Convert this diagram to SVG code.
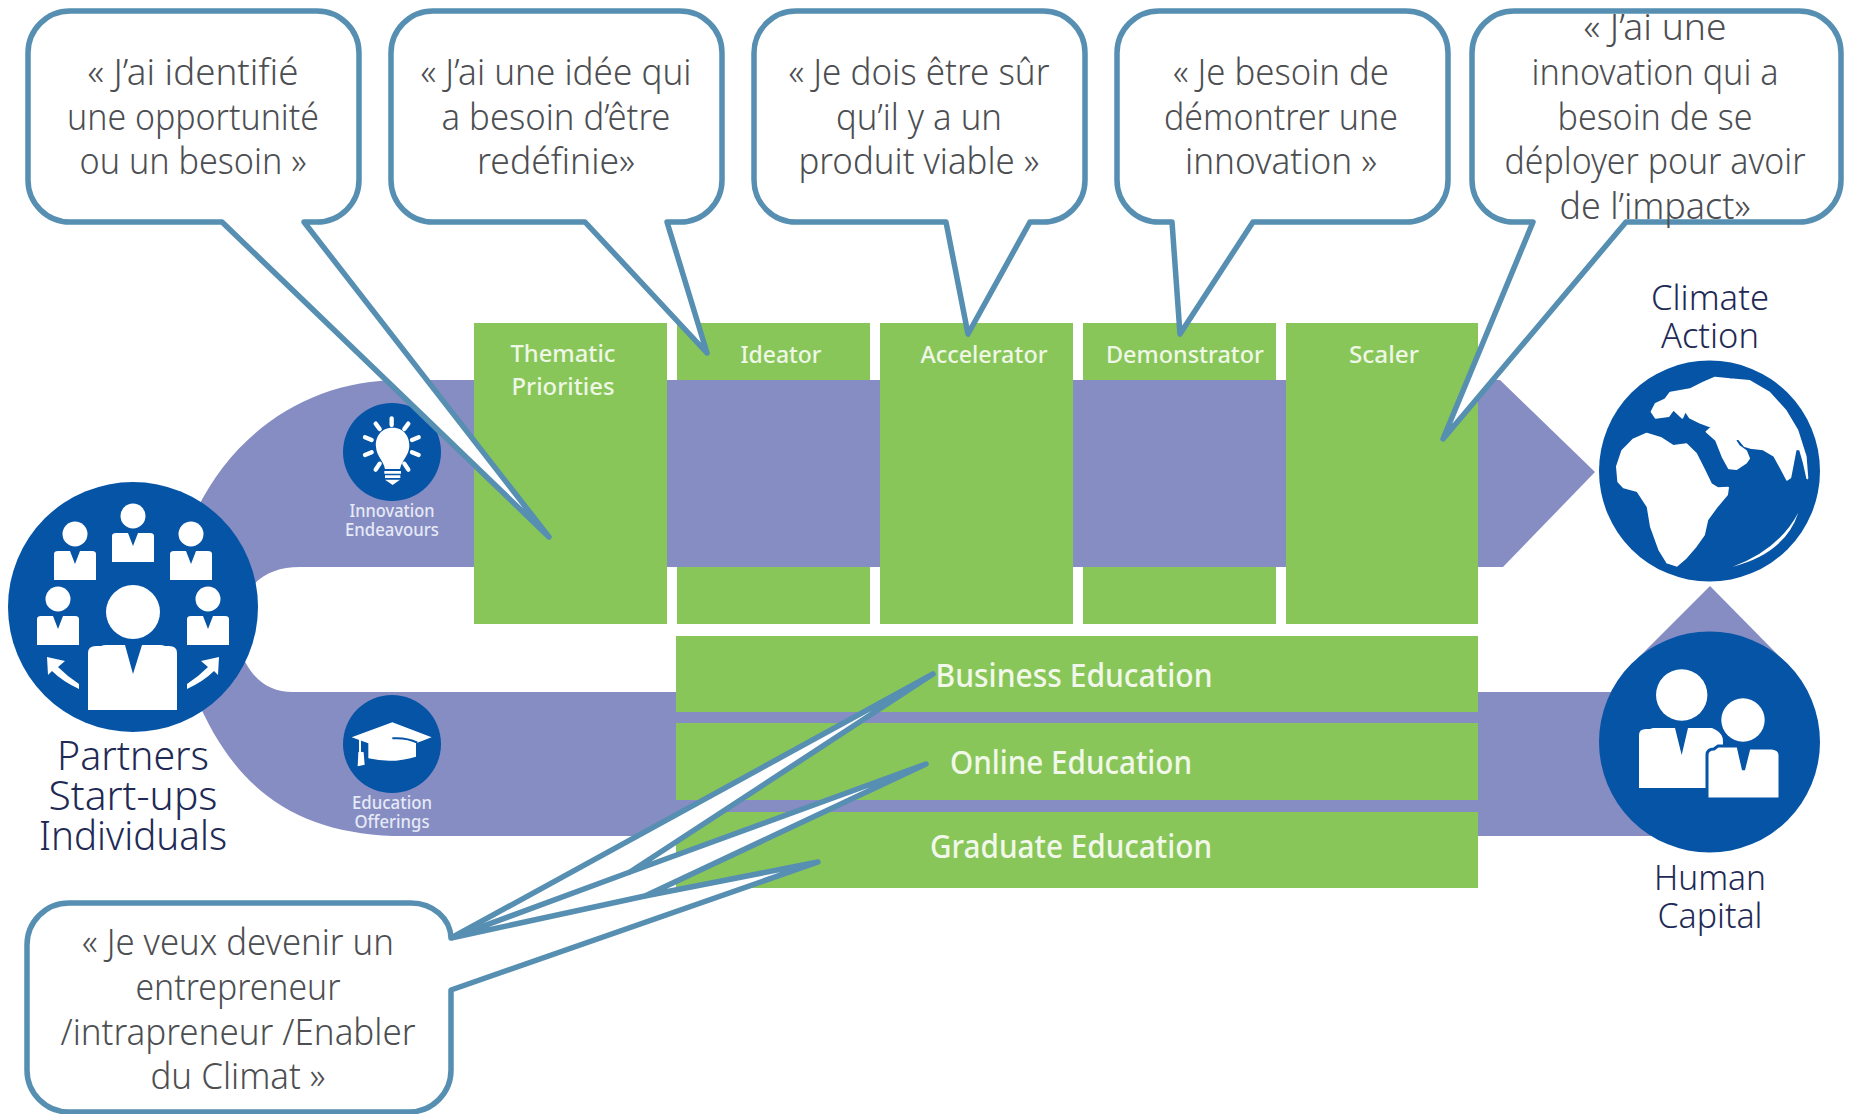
<svg xmlns="http://www.w3.org/2000/svg" width="1850" height="1114" viewBox="0 0 1850 1114">
<style>
text{font-family:"Noto Sans","Open Sans",sans-serif;text-anchor:middle}
.bg{fill:#fff}
.band{fill:#858dc3}
.green{fill:#89c659}
.blue{fill:#0554a6}
.w{fill:#fff}
.soft{fill:#fff;stroke:#fff;stroke-width:6;stroke-linejoin:round}
.bub{fill:#fff;stroke:#568fb1;stroke-width:5.5;stroke-linejoin:round}
.q{font-size:36px;font-weight:300;fill:#4c4e52}
.gl{font-size:24px;font-weight:500;fill:#eef7e6}
.el{font-size:32px;font-weight:500;fill:#f1f8ea}
.cl{font-size:18px;font-weight:500;fill:#e6e9f6}
.big{font-size:40px;font-weight:300;fill:#1f2a55}
.mid{font-size:35px;font-weight:300;fill:#1f2a55}
</style>
<rect class="bg" width="1850" height="1114"/>

<g id="ideator-block"><rect class="green" x="677" y="323" width="193" height="301"/></g>
<g id="demonstrator-block"><rect class="green" x="1083" y="323" width="193" height="301"/></g>

<g id="connectors">
<path id="innovation-flow" class="band" d="M190,525 C228,432 310,380 400,380 H1500 L1595,472 L1503,567 H300 C275,567 258,576 245,595 Z"/>
<path id="education-flow" class="band" d="M240,650 C250,678 268,692 293,692 H1720 V836 H393 C295,832 235,790 195,695 Z"/>
<path id="human-to-climate" class="band" d="M1710,586 L1637,659 H1782 Z"/>
</g>

<g id="thematic-block"><rect class="green" x="474" y="323" width="193" height="301"/></g>
<g id="accelerator-block"><rect class="green" x="880" y="323" width="193" height="301"/></g>
<g id="scaler-block"><rect class="green" x="1286" y="323" width="192" height="301"/></g>
<g id="business-education"><rect class="green" x="676" y="636" width="802" height="76"/></g>
<g id="online-education"><rect class="green" x="676" y="723" width="802" height="77"/></g>
<g id="graduate-education"><rect class="green" x="676" y="812" width="802" height="76"/></g>

<g id="partners">
<circle class="blue" cx="133" cy="607" r="125"/>
<g class="w">
<circle cx="133" cy="516" r="12.5"/><path d="M112,536 Q112,533 116,533 H128 L133,546 L138,533 H150 Q154,533 154,536 V562 H112 Z"/>
<circle cx="75" cy="534" r="12.5"/><path d="M54,554 Q54,551 58,551 H70 L75,564 L80,551 H92 Q96,551 96,554 V580 H54 Z"/>
<circle cx="191" cy="534" r="12.5"/><path d="M170,554 Q170,551 174,551 H186 L191,564 L196,551 H208 Q212,551 212,554 V580 H170 Z"/>
<circle cx="58" cy="599" r="12.5"/><path d="M37,619 Q37,616 41,616 H53 L58,629 L63,616 H75 Q79,616 79,619 V645 H37 Z"/>
<circle cx="208" cy="599" r="12.5"/><path d="M187,619 Q187,616 191,616 H203 L208,629 L213,616 H225 Q229,616 229,619 V645 H187 Z"/>
<circle cx="133" cy="612" r="27"/><path d="M88,653 Q88,646 96,646 H101 Q103,645 106,645 H125 L133,674 L142,645 H160 Q163,645 165,646 H169 Q177,646 177,653 V710 H88 Z"/>
<path d="M47,657 L65,661 L58,667 Q68,677 79,684 V689 Q62,681 52,671 L48,675 Z"/>
<path d="M219,657 L201,661 L208,667 Q198,677 187,684 V689 Q204,681 214,671 L218,675 Z"/>
</g>
<text class="big" x="133" y="770" textLength="152" lengthAdjust="spacingAndGlyphs">Partners</text>
<text class="big" x="133" y="810" textLength="169" lengthAdjust="spacingAndGlyphs">Start-ups</text>
<text class="big" x="133" y="850" textLength="188" lengthAdjust="spacingAndGlyphs">Individuals</text>
</g>

<g id="innovation-endeavours">
<circle class="blue" cx="392" cy="452" r="49"/>
<g transform="translate(330,395) scale(.3333)">
<path class="w" d="M188,98 C150,98 135,130 138,155 C140,185 160,195 165,222 H210 C215,195 235,185 238,155 C240,130 225,98 188,98 Z"/>
<path class="w" d="M163,228 H213 V236 H163 Z M165,241 H211 V249 H165 Z M165,254 H210 L188,270 Z"/>
<path fill="none" stroke="#fff" stroke-width="13" stroke-linecap="round" d="M185,70 V90 M137,86 L149,102 M235,86 L223,102 M105,127 L125,135 M266,127 L246,135 M105,180 L125,172 M266,180 L246,172 M137,224 L149,206 M235,224 L223,206"/>
</g>
<text class="cl" x="392" y="517" textLength="85" lengthAdjust="spacingAndGlyphs">Innovation</text>
<text class="cl" x="392" y="536" textLength="94" lengthAdjust="spacingAndGlyphs">Endeavours</text>
</g>

<g id="education-offerings">
<circle class="blue" cx="392" cy="744" r="49"/>
<g transform="translate(330,690) scale(.3333)">
<path class="w" d="M65,142 L187,97 L305,142 L258,160 V200 Q187,222 115,205 V160 Z"/>
<path fill="none" stroke="#0554a6" stroke-width="6" d="M187,145 Q230,142 262,158"/>
<path class="w" d="M87,150 H93 V185 L101,187 L104,224 L83,229 L85,187 L87,185 Z"/>
</g>
<text class="cl" x="392" y="809" textLength="80" lengthAdjust="spacingAndGlyphs">Education</text>
<text class="cl" x="392" y="828" textLength="75" lengthAdjust="spacingAndGlyphs">Offerings</text>
</g>

<g id="climate-action">
<circle class="blue" cx="1709.5" cy="471" r="110.5"/>
<g transform="translate(1590,350) scale(.3333)">
<path class="soft" d="M81,350 L97,302 L131,268 L170,251 L214,265 L250,288 L289,283 L318,311 L343,361 L363,402 L384,415 L414,413 L411,434 L382,468 L352,509 L342,554 L318,588 L288,623 L260,647 L232,638 L208,599 L183,530 L173,470 L142,423 L101,412 L85,395 Z"/>
<path class="soft" d="M185,185 L197,162 L226,148 L241,128 L300,118 L340,98 L375,83 L420,88 L479,93 L538,128 L587,182 L622,241 L647,320 L652,385 L642,340 L630,298 L617,298 L608,345 L601,382 L591,389 L578,364 L553,318 L520,298 L480,293 L464,288 L445,265 L435,270 L447,288 L468,303 L477,325 L468,338 L440,357 L417,355 L398,320 L378,270 L350,245 L366,231 L330,218 L300,203 L286,182 L277,203 L250,178 L236,198 L197,203 Z"/>
<path class="w" d="M428,650 Q565,600 625,488 Q585,610 428,650 Z"/>
</g>
<text class="mid" x="1710" y="310" textLength="118" lengthAdjust="spacingAndGlyphs">Climate</text>
<text class="mid" x="1710" y="348" textLength="98" lengthAdjust="spacingAndGlyphs">Action</text>
</g>

<g id="human-capital">
<circle class="blue" cx="1709.5" cy="742" r="110.5"/>
<circle class="w" cx="1681.7" cy="695" r="25.7"/>
<path class="w" d="M1639,735 Q1639,729 1646,729 H1650 L1653,728 H1675 L1681.7,755 L1688,728 H1712 L1716,730 Q1723,734 1723,741 V788 H1639 Z"/>
<circle class="w" cx="1743" cy="720" r="21.7"/>
<path class="w" stroke="#0554a6" stroke-width="3" d="M1707,755 Q1707,749 1714,749 L1718,746 H1738 L1743.5,770 L1749,748 H1772 Q1780,749 1780,755 V799 H1707 Z"/>
<text class="mid" x="1710" y="890" textLength="112" lengthAdjust="spacingAndGlyphs">Human</text>
<text class="mid" x="1710" y="928" textLength="105" lengthAdjust="spacingAndGlyphs">Capital</text>
</g>

<g id="block-labels">
<text class="gl" x="563" y="362" textLength="105" lengthAdjust="spacingAndGlyphs">Thematic</text>
<text class="gl" x="563" y="395" textLength="103" lengthAdjust="spacingAndGlyphs">Priorities</text>
<text class="gl" x="781" y="363" textLength="81" lengthAdjust="spacingAndGlyphs">Ideator</text>
<text class="gl" x="984" y="363" textLength="127" lengthAdjust="spacingAndGlyphs">Accelerator</text>
<text class="gl" x="1185" y="363" textLength="158" lengthAdjust="spacingAndGlyphs">Demonstrator</text>
<text class="gl" x="1384" y="363" textLength="70" lengthAdjust="spacingAndGlyphs">Scaler</text>
<text class="el" x="1074" y="687" textLength="277" lengthAdjust="spacingAndGlyphs">Business Education</text>
<text class="el" x="1071" y="774" textLength="242" lengthAdjust="spacingAndGlyphs">Online Education</text>
<text class="el" x="1071" y="858" textLength="282" lengthAdjust="spacingAndGlyphs">Graduate Education</text>
</g>

<g id="bubble-1">
<path class="bub" d="M70,11 H317 A42,42 0 0 1 359,53 V180 A42,42 0 0 1 317,222 H304 L549,537 L222,222 H70 A42,42 0 0 1 28,180 V53 A42,42 0 0 1 70,11 Z"/>
<text class="q" x="193" y="85" textLength="211" lengthAdjust="spacingAndGlyphs">« J’ai identifié</text>
<text class="q" x="193" y="130" textLength="252" lengthAdjust="spacingAndGlyphs">une opportunité</text>
<text class="q" x="193" y="174" textLength="227" lengthAdjust="spacingAndGlyphs">ou un besoin »</text>
</g>
<g id="bubble-2">
<path class="bub" d="M433,11 H680 A42,42 0 0 1 722,53 V180 A42,42 0 0 1 680,222 H667 L707,353 L585,222 H433 A42,42 0 0 1 391,180 V53 A42,42 0 0 1 433,11 Z"/>
<text class="q" x="556" y="85" textLength="271" lengthAdjust="spacingAndGlyphs">« J’ai une idée qui</text>
<text class="q" x="556" y="130" textLength="229" lengthAdjust="spacingAndGlyphs">a besoin d’être</text>
<text class="q" x="556" y="174" textLength="158" lengthAdjust="spacingAndGlyphs">redéfinie»</text>
</g>
<g id="bubble-3">
<path class="bub" d="M796,11 H1043 A42,42 0 0 1 1085,53 V180 A42,42 0 0 1 1043,222 H1030 L968,334 L946,222 H796 A42,42 0 0 1 754,180 V53 A42,42 0 0 1 796,11 Z"/>
<text class="q" x="919" y="85" textLength="261" lengthAdjust="spacingAndGlyphs">« Je dois être sûr</text>
<text class="q" x="919" y="130" textLength="166" lengthAdjust="spacingAndGlyphs">qu’il y a un</text>
<text class="q" x="919" y="174" textLength="241" lengthAdjust="spacingAndGlyphs">produit viable »</text>
</g>
<g id="bubble-4">
<path class="bub" d="M1159,11 H1406 A42,42 0 0 1 1448,53 V180 A42,42 0 0 1 1406,222 H1253 L1180,334 L1172,222 H1159 A42,42 0 0 1 1117,180 V53 A42,42 0 0 1 1159,11 Z"/>
<text class="q" x="1281" y="85" textLength="216" lengthAdjust="spacingAndGlyphs">« Je besoin de</text>
<text class="q" x="1281" y="130" textLength="234" lengthAdjust="spacingAndGlyphs">démontrer une</text>
<text class="q" x="1281" y="174" textLength="192" lengthAdjust="spacingAndGlyphs">innovation »</text>
</g>
<g id="bubble-5">
<path class="bub" d="M1514,11 H1799 A42,42 0 0 1 1841,53 V180 A42,42 0 0 1 1799,222 H1626 L1443,439 L1533,222 H1514 A42,42 0 0 1 1472,180 V53 A42,42 0 0 1 1514,11 Z"/>
<text class="q" x="1655" y="40" textLength="143" lengthAdjust="spacingAndGlyphs">« J’ai une</text>
<text class="q" x="1655" y="85" textLength="247" lengthAdjust="spacingAndGlyphs">innovation qui a</text>
<text class="q" x="1655" y="130" textLength="195" lengthAdjust="spacingAndGlyphs">besoin de se</text>
<text class="q" x="1655" y="174" textLength="301" lengthAdjust="spacingAndGlyphs">déployer pour avoir</text>
<text class="q" x="1655" y="219" textLength="191" lengthAdjust="spacingAndGlyphs">de l’impact»</text>
</g>
<g id="bubble-6">
<path class="bub" d="M69,903 H411 A40,36 0 0 1 451,938 L933,674 L630,872 L926,764 L645,896 L818,862 L451,990 V1070 A42,42 0 0 1 409,1112 H69 A42,42 0 0 1 27,1070 V945 A42,42 0 0 1 69,903 Z"/>
<path fill="none" stroke="#568fb1" stroke-width="5.5" d="M451,938 L630,872 M451,938 L645,896"/>
<text class="q" x="238" y="955" textLength="312" lengthAdjust="spacingAndGlyphs">« Je veux devenir un</text>
<text class="q" x="238" y="1000" textLength="205" lengthAdjust="spacingAndGlyphs">entrepreneur</text>
<text class="q" x="238" y="1045" textLength="355" lengthAdjust="spacingAndGlyphs">/intrapreneur /Enabler</text>
<text class="q" x="238" y="1089" textLength="175" lengthAdjust="spacingAndGlyphs">du Climat »</text>
</g>
</svg>
